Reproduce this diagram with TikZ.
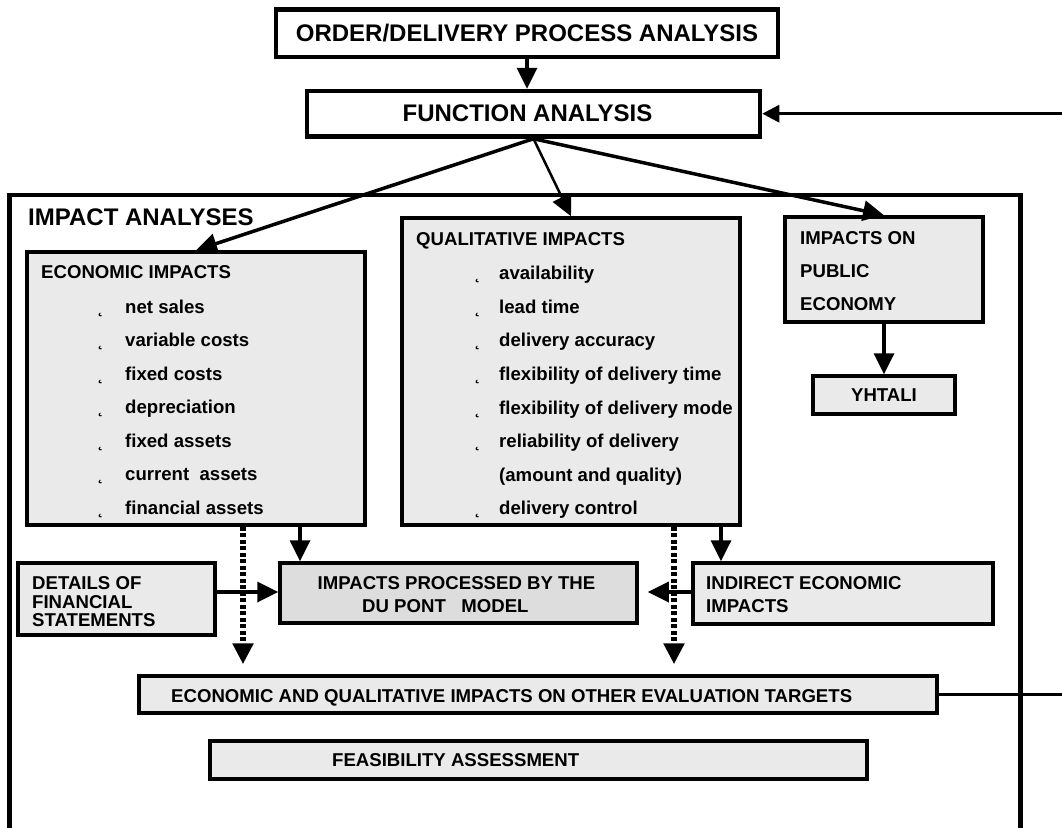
\documentclass[tikz,border=0pt]{standalone}
\usepackage{fontspec}
\setmainfont{Liberation Sans}
\usetikzlibrary{arrows.meta,calc}
\definecolor{boxgray}{RGB}{234,234,234}
\definecolor{dpgray}{RGB}{221,221,221}
\newcommand\mkbox[6]{%
  \node[#2, minimum width={(#5-#3)*1pt}, minimum height={(#6-#4)*1pt}, inner sep=0pt] (#1) at ({(#3+#5)/2},{(#4+#6)/2}) {};}
\tikzset{
  whitebox/.style={draw, line width=4.5pt, fill=white},
  graybox/.style={draw, line width=3.5pt, fill=boxgray},
  dpbox/.style={draw, line width=3.5pt, fill=dpgray},
  txt/.style={anchor=base west, inner sep=0pt, font=\fontsize{18.6}{19}\selectfont\bfseries},
  ctxt/.style={txt, anchor=base},
  bigtxt/.style={anchor=base, inner sep=0pt, font=\fontsize{24}{26}\selectfont\bfseries},
  bul/.style={anchor=base west, inner sep=0pt, font=\fontsize{16}{16}\selectfont\bfseries},
  arr/.style={line width=3.5pt, -{Triangle[length=21pt,width=20pt]}},
  thinarr/.style={line width=2.5pt, -{Triangle[length=21pt,width=20pt]}},
  inarr/.style={line width=3pt, -{Triangle[length=17pt,width=17pt]}},
  dotarr/.style={line width=5.5pt, dash pattern=on 4pt off 2.5pt, -{Triangle[length=21pt,width=20pt]}},
}
\begin{document}
\begin{tikzpicture}[x=1pt,y=-1pt]
\useasboundingbox (0,0) rectangle (1062,827);
\clip (0,0) rectangle (1062,827);
% big frame
\draw[line width=4.5pt] (9.5,840) -- (9.5,195) -- (1020.5,195) -- (1020.5,840);
\node[bigtxt, anchor=base west] (tIA) at (28,225.6) {IMPACT ANALYSES};
% boxes
\mkbox{order}{whitebox}{276}{9.5}{778}{57}
\mkbox{func}{whitebox}{307}{91}{760}{136.5}
\mkbox{econ}{graybox}{27}{252}{365}{525}
\mkbox{qual}{graybox}{402}{218}{740}{525}
\mkbox{pub}{graybox}{785}{217}{983}{322}
\mkbox{yht}{graybox}{813}{376}{955}{414}
\mkbox{det}{graybox}{18}{563}{215}{635}
\mkbox{dup}{dpbox}{280}{563}{637}{623}
\mkbox{ind}{graybox}{693}{563}{993}{624}
\mkbox{eval}{graybox}{139}{676}{937}{713}
\mkbox{feas}{graybox}{210}{741}{867}{779}
% texts
\node[bigtxt] (tOrd) at (527,41.6) {ORDER/DELIVERY PROCESS ANALYSIS};
\node[bigtxt] (tFun) at (527.5,121.6) {FUNCTION ANALYSIS};
\node[txt] (tEc) at (41,278.4) {ECONOMIC IMPACTS};
\foreach \t [count=\i] in {net sales, variable costs, fixed costs, depreciation, fixed assets, current~ assets, financial assets}{
  \node[bul] (be\i) at (98,{313.4+33.5*(\i-1)}) {˛};
  \node[txt] (te\i) at (125,{313.4+33.5*(\i-1)}) {\t};
}
\node[txt] (tQu) at (416,245.7) {QUALITATIVE IMPACTS};
\foreach \t [count=\i] in {availability, lead time, delivery accuracy, flexibility of delivery time, flexibility of delivery mode, reliability of delivery}{
  \node[bul] (bq\i) at (475,{279.7+33.6*(\i-1)}) {˛};
  \node[txt] (tq\i) at (499,{279.7+33.6*(\i-1)}) {\t};
}
\node[txt] (tq7) at (499,481.7) {(amount and quality)};
\node[bul] (bq8) at (475,514.7) {˛};
\node[txt] (tq8) at (499,514.7) {delivery control};
\node[txt] (tP1) at (800,244.7) {IMPACTS ON};
\node[txt] (tP2) at (800,277.7) {PUBLIC};
\node[txt] (tP3) at (800,310.7) {ECONOMY};
\node[ctxt] (tY) at (884,401.7) {YHTALI};
\node[txt] (tD1) at (32,589.7) {DETAILS OF};
\node[txt] (tD2) at (32,608.7) {FINANCIAL};
\node[txt] (tD3) at (32,626.7) {STATEMENTS};
\node[ctxt] (tU1) at (456.5,589.7) {IMPACTS PROCESSED BY THE};
\node[txt] (tU2) at (362,612.7) {DU PONT\ \ \ MODEL};
\node[txt] (tI1) at (706,589.7) {INDIRECT ECONOMIC};
\node[txt] (tI2) at (706,612.7) {IMPACTS};
\node[txt] (tE) at (171,702.7) {ECONOMIC AND QUALITATIVE IMPACTS ON OTHER EVALUATION TARGETS};
\node[txt] (tF) at (332,766.7) {FEASIBILITY ASSESSMENT};
% helper coordinates
\coordinate (inR) at (1062,113.7);
\coordinate (outR) at (1062,694.5);
\coordinate (cA) at (300,0);
\coordinate (cB) at (721,0);
\coordinate (cC) at (0,592);
\coordinate (dA) at (243,0);
\coordinate (dB) at (674,0);
% connectors
\draw[arr] (order.south) -- (order.south |- func.north);
\draw[inarr] (inR) -- (func.east |- inR);
\draw[arr] (func.south) -- (econ.north);
\draw[thinarr] (func.south) -- (qual.north);
\draw[arr] (func.south) -- (pub.north);
\draw[arr] (pub.south) -- (yht.north);
\draw[arr] (econ.south -| cA) -- (dup.north -| cA);
\draw[arr] (qual.south -| cB) -- (ind.north -| cB);
\draw[arr] (det.east |- cC) -- (dup.west |- cC);
\draw[arr, shorten >=9pt] (ind.west |- cC) -- (dup.east |- cC);
\draw[dotarr, shorten >=10pt] (econ.south -| dA) -- (eval.north -| dA);
\draw[dotarr, shorten >=10pt] (qual.south -| dB) -- (eval.north -| dB);
\draw[line width=2.5pt] (eval.east |- outR) -- (outR);
\end{tikzpicture}
\end{document}
